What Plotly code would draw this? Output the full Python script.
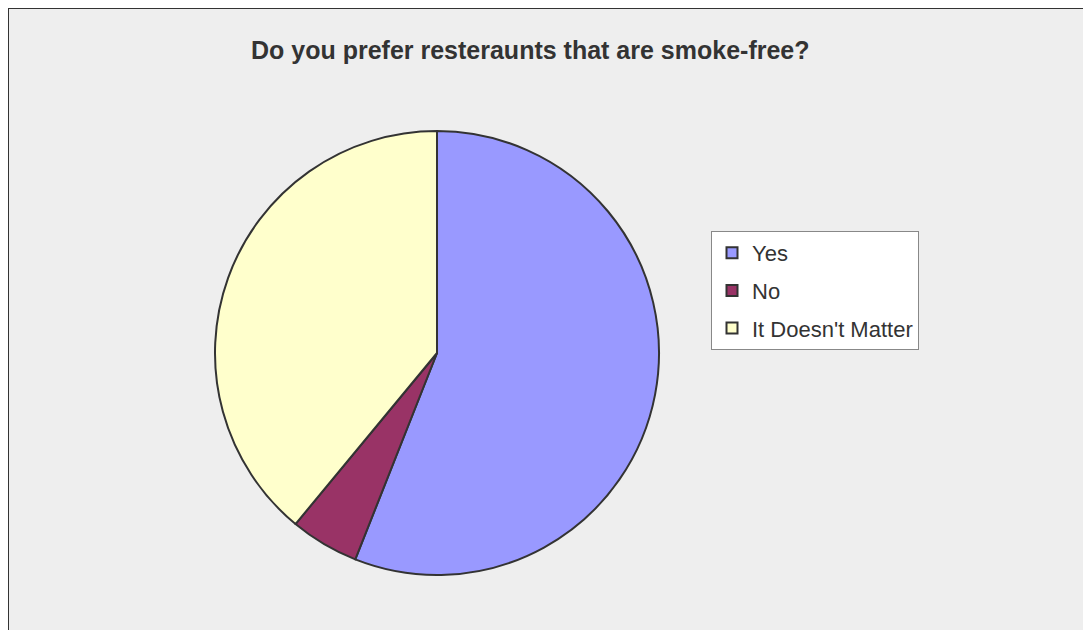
import plotly.graph_objects as go

W, H = 1091, 630
OFF = 8  # page body margin of the browser

labels = ["Yes", "No", "It Doesn't Matter"]
values = [56, 5, 39]
colors = ["#9999FF", "#993366", "#FFFFCC"]
title = "Do you prefer resteraunts that are smoke-free?"


def px(x):
    return (x - OFF) / W


def py(y):
    return 1 - (y - OFF) / H


fig = go.Figure()

fig.add_trace(go.Pie(
    labels=labels,
    values=values,
    sort=False,
    direction="clockwise",
    rotation=0,
    textinfo="none",
    hoverinfo="label+value",
    marker=dict(colors=colors, line=dict(color="#333333", width=2)),
    domain=dict(x=[px(215), px(659)], y=[py(575), py(131)]),
    showlegend=False,
))

# legend entries as separate groups so the spacing can be set
for i, (lab, col) in enumerate(zip(labels, colors)):
    fig.add_trace(go.Scatter(
        x=[None], y=[None],
        mode="markers",
        name=lab,
        legendgroup=f"g{i}",
        marker=dict(symbol="square", size=11, color=col,
                    line=dict(color="#333333", width=2)),
    ))

fig.update_layout(
    width=W, height=H,
    margin=dict(l=0, r=0, t=0, b=0),
    paper_bgcolor="white",
    plot_bgcolor="rgba(0,0,0,0)",
    xaxis=dict(visible=False, range=[0, 1]),
    yaxis=dict(visible=False, range=[0, 1]),
    showlegend=True,
    legend=dict(
        x=px(711), y=py(231), xanchor="left", yanchor="top",
        bgcolor="white", bordercolor="#888888", borderwidth=1,
        font=dict(family="Liberation Sans, Arial", size=22, color="#333333"),
        tracegroupgap=6,
        itemwidth=30,
    ),
    shapes=[dict(
        type="rect", xref="paper", yref="paper", layer="below",
        x0=0, x1=px(W + 30), y0=py(H + 30), y1=1,
        fillcolor="#EEEEEE", line=dict(color="#333333", width=2),
    )],
    annotations=[dict(
        text=f"<b>{title}</b>", xref="paper", yref="paper",
        x=px(530), y=py(50), xanchor="center", yanchor="middle",
        showarrow=False,
        font=dict(family="Liberation Sans, Arial", size=25, color="#333333"),
    )],
)

fig.write_html("out.html")
